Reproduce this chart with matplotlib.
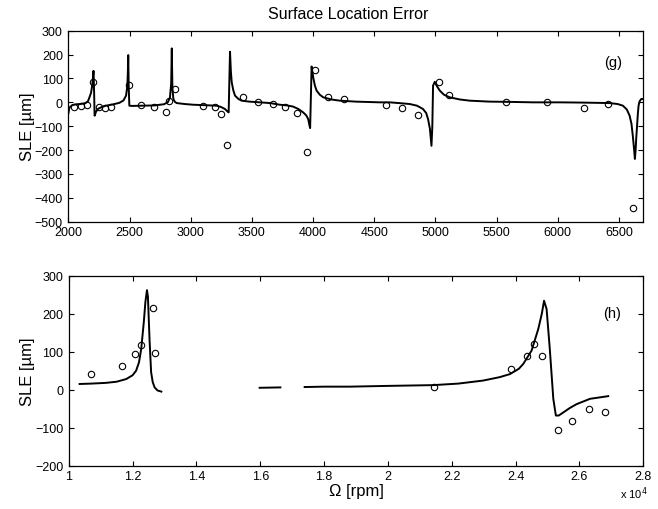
import matplotlib
matplotlib.use("Agg")
import matplotlib.pyplot as plt

plt.rcParams['font.family'] = ['Liberation Sans', 'DejaVu Sans']

# ---- Top panel (g): model curve and measured points ----
top_curve_rpm = [2000, 2008, 2030, 2063, 2100, 2140, 2160, 2172, 2185, 2194, 2200, 2205, 2210, 2214,
                 2225, 2240, 2270, 2308, 2360, 2417, 2450, 2471, 2482, 2486, 2489, 2493, 2498, 2520,
                 2600, 2700, 2780, 2812, 2830, 2840, 2845, 2850, 2858, 2870, 2885, 2950, 3021, 3120,
                 3212, 3250, 3280, 3300, 3310, 3316, 3321, 3328, 3335, 3348, 3362, 3390, 3416, 3480,
                 3566, 3647, 3729, 3790, 3838, 3880, 3919, 3945, 3960, 3970, 3976, 3982, 3988, 4001,
                 4015, 4029, 4055, 4083, 4150, 4219, 4350, 4546, 4627, 4700, 4790, 4850, 4899, 4925,
                 4940, 4955, 4968, 4975, 4981, 4995, 5010, 5036, 5070, 5117, 5200, 5281, 5444, 5600,
                 5800, 6016, 6200, 6424, 6490, 6533, 6565, 6588, 6603, 6614, 6625, 6631, 6637, 6642,
                 6647, 6655, 6661, 6670, 6683, 6700]
top_curve_sle = [-45, -22, -12, -8, -7, -3, 5, 21, 40, 70, 100, 132, 40, -56,
                 -40, -28, -20, -14, -9, -2, 8, 28, 70, 130, 198, 60, -14, -15,
                 -14, -13, -8, 0, 20, 80, 226, 60, 14, 2, -3, -7, -10, -12,
                 -14, -20, -28, -38, -42, 100, 212, 130, 84, 50, 28, 14, 7, 3,
                 0, -3, -10, -13, -18, -28, -42, -55, -70, -95, -108, 20, 150, 105,
                 70, 49, 32, 21, 12, 7, 3, 0, 0, -3, -7, -14, -28, -45,
                 -70, -110, -182, -100, 70, 86, 70, 49, 32, 21, 12, 7, 3, 2,
                 0, 0, -1, -3, -7, -14, -30, -56, -90, -140, -200, -237, -200, -150,
                 -112, -50, -14, 5, 14, 14]

top_meas_rpm = [2047, 2101, 2150, 2199, 2248, 2297, 2346, 2498, 2596, 2700, 2798, 2825, 2874,
                3098, 3196, 3250, 3299, 3424, 3549, 3674, 3772, 3870, 3952, 4016, 4126, 4256,
                4600, 4731, 4861, 5030, 5111, 5575, 5912, 6215, 6415, 6614]
top_meas_sle = [-18, -14, -10, 84, -21, -24, -18, 71, -11, -18, -39, 7, 56,
                -14, -21, -50, -179, 24, 3, -7, -21, -45, -207, 136, 24, 12,
                -10, -23, -52, 85, 31, 3, 0, -22, -9, -444]

# ---- Bottom panel (h): model curve segments and measured points (x in 1e4 rpm) ----
bot_seg1_x = [1.034, 1.07, 1.117, 1.15, 1.18, 1.20, 1.211, 1.22, 1.227, 1.235, 1.240, 1.245, 1.248,
              1.253, 1.258, 1.263, 1.269, 1.278, 1.29]
bot_seg1_y = [15, 16, 18, 21, 28, 38, 50, 72, 107, 177, 230, 262, 245,
              133, 46, 20, 6, -2, -5]
bot_seg2_x = [1.598, 1.663]
bot_seg2_y = [5, 6]
bot_seg3_x = [1.739, 1.80, 1.88, 2.0, 2.141, 2.22, 2.298, 2.35, 2.382, 2.41, 2.424, 2.45, 2.471,
              2.482, 2.489, 2.497, 2.507, 2.518, 2.526, 2.535, 2.549, 2.57, 2.591, 2.633, 2.69]
bot_seg3_y = [7, 8, 8, 10, 12, 16, 24, 33, 41, 55, 68, 103, 160,
              200, 234, 212, 107, -24, -68, -68, -60, -48, -38, -24, -17]

bot_meas_x = [1.070, 1.166, 1.206, 1.225, 1.265, 1.271, 2.144, 2.387, 2.436, 2.456, 2.483,
              2.533, 2.577, 2.630, 2.679]
bot_meas_y = [40, 63, 94, 118, 215, 96, 8, 54, 89, 120, 89, -105, -82, -52, -60]

top_xticks = [2000, 2500, 3000, 3500, 4000, 4500, 5000, 5500, 6000, 6500]
top_yticks = [-500, -400, -300, -200, -100, 0, 100, 200, 300]
bot_xticks = [1, 1.2, 1.4, 1.6, 1.8, 2, 2.2, 2.4, 2.6, 2.8]
bot_xticklabels = ['1', '1.2', '1.4', '1.6', '1.8', '2', '2.2', '2.4', '2.6', '2.8']
bot_yticks = [-200, -100, 0, 100, 200, 300]

fig = plt.figure(figsize=(6.58, 5.10), dpi=100)
ax1 = fig.add_axes([0.1040, 0.5633, 0.8737, 0.3745])
ax2 = fig.add_axes([0.1045, 0.0849, 0.8732, 0.3726])

lw = 1.4
ms = 4.6
for ax in (ax1, ax2):
    ax.tick_params(direction='in', length=3.5, width=0.8, labelsize=9,
                   top=True, right=True, pad=4)
    ax.tick_params(axis='x', pad=3)
    for s in ax.spines.values():
        s.set_linewidth(0.9)

ax1.plot(top_curve_rpm, top_curve_sle, color='black', lw=lw)
ax1.plot(top_meas_rpm, top_meas_sle, 'o', mfc='none', mec='black', ms=ms, mew=0.8)
ax1.set_xlim(2000, 6700)
ax1.set_ylim(-500, 300)
ax1.set_xticks(top_xticks)
ax1.set_yticks(top_yticks)
ax1.set_title('Surface Location Error', fontsize=11.5, pad=9, x=0.487)
ax1.set_ylabel('SLE [µm]', fontsize=12)
ax1.yaxis.set_label_coords(-0.058, 0.5)
ax1.text(6451, 168, '(g)', fontsize=10.5, ha='center', va='center')

ax2.plot(bot_seg1_x, bot_seg1_y, color='black', lw=lw)
ax2.plot(bot_seg2_x, bot_seg2_y, color='black', lw=lw)
ax2.plot(bot_seg3_x, bot_seg3_y, color='black', lw=lw)
ax2.plot(bot_meas_x, bot_meas_y, 'o', mfc='none', mec='black', ms=ms, mew=0.8)
ax2.set_xlim(1, 2.8)
ax2.set_ylim(-200, 300)
ax2.set_xticks(bot_xticks)
ax2.set_xticklabels(bot_xticklabels)
ax2.set_yticks(bot_yticks)
ax2.set_ylabel('SLE [µm]', fontsize=12)
ax2.yaxis.set_label_coords(-0.058, 0.5)
ax2.set_xlabel('Ω [rpm]', fontsize=12)
ax2.xaxis.set_label_coords(0.5, -0.092)
ax2.text(2.701, 202, '(h)', fontsize=10.5, ha='center', va='center')
fig.text(634 / 658, 1 - 494 / 510, 'x 10$^4$', fontsize=8, ha='center', va='center')

fig.savefig('out.png', dpi=100)
